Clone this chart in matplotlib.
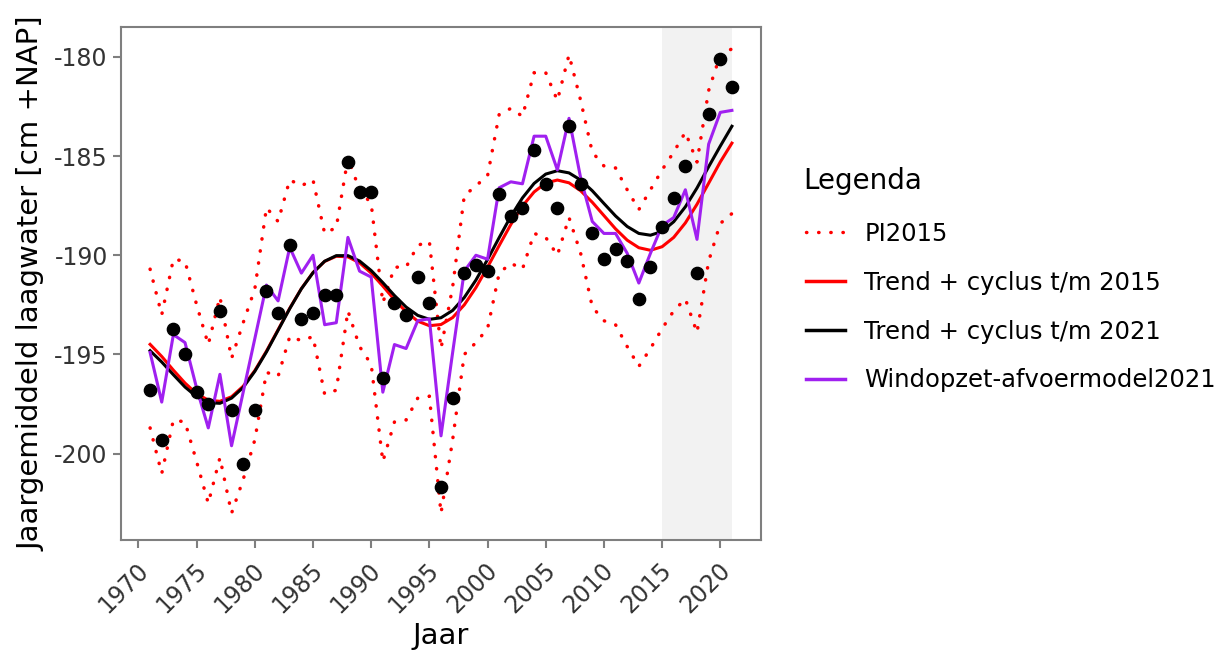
import numpy as np
import matplotlib
matplotlib.use('Agg')
import matplotlib.pyplot as plt
import matplotlib.transforms as mtransforms
from matplotlib.lines import Line2D

plt.rcParams['axes.unicode_minus'] = False

jaren = np.arange(1971, 2022)

# jaargemiddeld laagwater (punten)
gemeten = [-196.8, -199.3, -193.7, -195.0, -196.9, -197.5, -192.8, -197.8, -200.5, -197.8,
           -191.8, -192.9, -189.5, -193.2, -192.9, -192.0, -192.0, -185.3, -186.8, -186.8,
           -196.2, -192.4, -193.0, -191.1, -192.4, -201.7, -197.2, -190.9, -190.5, -190.8,
           -186.9, -188.0, -187.6, -184.7, -186.4, -187.6, -183.5, -186.4, -188.9, -190.2,
           -189.7, -190.3, -192.2, -190.6, -188.6, -187.1, -185.5, -190.9, -182.9, -180.1,
           -181.5]

windopzet = [-194.9, -197.4, -194.0, -194.4, -196.7, -198.7, -196.0, -199.6, -196.9, -194.2,
             -191.5, -192.3, -189.6, -190.9, -190.0, -193.5, -193.4, -189.1, -190.8, -191.1,
             -196.9, -194.5, -194.7, -193.3, -193.2, -199.1, -194.9, -190.8, -190.0, -190.2,
             -186.6, -186.3, -186.4, -184.0, -184.0, -185.7, -183.1, -186.1, -188.3, -188.9,
             -188.9, -189.9, -191.4, -189.9, -188.5, -188.1, -186.7, -189.2, -184.4, -182.8,
             -182.7]

pi_boven = [-190.7, -193.0, -190.2, -190.3, -192.5, -194.5, -192.1, -195.2, -193.4, -191.7,
            -187.6, -188.3, -186.2, -186.5, -186.2, -188.9, -188.6, -185.1, -186.7, -187.4,
            -192.4, -190.6, -190.6, -189.5, -189.3, -194.7, -191.6, -187.0, -186.5, -186.0,
            -182.9, -182.6, -183.0, -180.8, -180.8, -182.2, -179.9, -182.2, -184.8, -185.5,
            -185.6, -186.7, -187.7, -186.7, -185.7, -184.8, -183.8, -185.3, -181.7, -179.9,
            -179.6]

pi_onder = [-198.7, -201.0, -198.3, -198.4, -200.4, -202.5, -200.2, -203.0, -201.3, -199.3,
            -195.9, -196.1, -194.1, -194.3, -194.1, -197.0, -196.8, -192.8, -194.6, -195.5,
            -200.4, -198.4, -198.3, -197.2, -197.1, -203.0, -199.3, -195.0, -194.4, -193.7,
            -190.9, -190.4, -190.7, -188.9, -189.1, -190.0, -188.1, -189.9, -192.6, -193.3,
            -193.5, -194.6, -195.6, -194.7, -193.7, -192.8, -192.2, -193.9, -190.3, -188.4,
            -187.9]

trend_2015 = [-194.49, -195.10, -195.79, -196.44, -196.98, -197.30, -197.36, -197.13, -196.60, -195.81,
              -194.83, -193.75, -192.67, -191.68, -190.87, -190.31, -190.05, -190.08, -190.38, -190.90,
              -191.55, -192.24, -192.85, -193.32, -193.55, -193.49, -193.14, -192.50, -191.63, -190.60,
              -189.51, -188.45, -187.52, -186.81, -186.36, -186.21, -186.35, -186.75, -187.33, -188.00,
              -188.67, -189.24, -189.62, -189.75, -189.57, -189.10, -188.37, -187.43, -186.37, -185.30,
              -184.35]

trend_2021 = [-194.81, -195.38, -196.02, -196.64, -197.13, -197.43, -197.46, -197.20, -196.66, -195.85,
              -194.87, -193.78, -192.69, -191.69, -190.88, -190.30, -190.02, -190.02, -190.29, -190.77,
              -191.38, -192.03, -192.61, -193.03, -193.23, -193.15, -192.78, -192.13, -191.25, -190.21,
              -189.11, -188.04, -187.11, -186.38, -185.91, -185.74, -185.85, -186.21, -186.75, -187.39,
              -188.02, -188.55, -188.90, -188.99, -188.80, -188.31, -187.56, -186.61, -185.54, -184.50,
              -183.50]

paars = '#a020f0'
grijs = '#7f7f7f'
stip = (0, (0.1, 3.4))

fig = plt.figure(figsize=(12.31, 6.53), dpi=100)
ax = fig.add_axes([0.0983, 0.173, 0.5199, 0.7856])

ax.axvspan(2015, 2021, color='#f2f2f2', lw=0, zorder=0)
ax.plot(jaren, pi_boven, color='red', lw=2.5, linestyle=stip, dash_capstyle='round', zorder=2)
ax.plot(jaren, pi_onder, color='red', lw=2.5, linestyle=stip, dash_capstyle='round', zorder=2)
ax.plot(jaren, trend_2015, color='red', lw=2.2, zorder=3)
ax.plot(jaren, trend_2021, color='black', lw=2.2, zorder=3)
ax.plot(jaren, windopzet, color=paars, lw=2.2, zorder=4)
ax.scatter(jaren, gemeten, s=78, color='black', zorder=5)

ax.set_xlim(1968.5, 2023.5)
ax.set_ylim(-204.35, -178.5)
ax.set_xticks(np.arange(1970, 2021, 5))
ax.set_yticks(np.arange(-200, -179, 5))
ax.tick_params(axis='both', colors=grijs, labelcolor='#333333', labelsize=17,
               length=6, width=1.5, direction='out')
ax.tick_params(axis='x', pad=13)
verschuif = mtransforms.ScaledTranslation(6 / 100, 0, fig.dpi_scale_trans)
for lab in ax.get_xticklabels():
    lab.set_rotation(45)
    lab.set_ha('right')
    lab.set_va('center')
    lab.set_rotation_mode('anchor')
    lab.set_transform(lab.get_transform() + verschuif)
for s in ax.spines.values():
    s.set_color(grijs)
    s.set_linewidth(1.5)

ax.set_xlabel('Jaar', fontsize=21, labelpad=3)
ax.set_ylabel('Jaargemiddeld laagwater [cm +NAP]', fontsize=21, labelpad=6)

handles = [Line2D([], [], color='red', lw=2.5, linestyle=stip, dash_capstyle='round'),
           Line2D([], [], color='red', lw=2.5),
           Line2D([], [], color='black', lw=2.5),
           Line2D([], [], color=paars, lw=2.5)]
labels = ['PI2015', 'Trend + cyclus t/m 2015', 'Trend + cyclus t/m 2021',
          'Windopzet-afvoermodel2021']
fig.text(803 / 1231, 1 - 181 / 653, 'Legenda', fontsize=20, va='center', ha='left')
fig.legend(handles, labels, loc='upper left', bbox_to_anchor=(806 / 1231, 1 - 222 / 653),
           frameon=False, fontsize=17.5, handlelength=1.6, handletextpad=0.8,
           labelspacing=1.02, borderpad=0, borderaxespad=0)

fig.savefig('out.png', dpi=100)
